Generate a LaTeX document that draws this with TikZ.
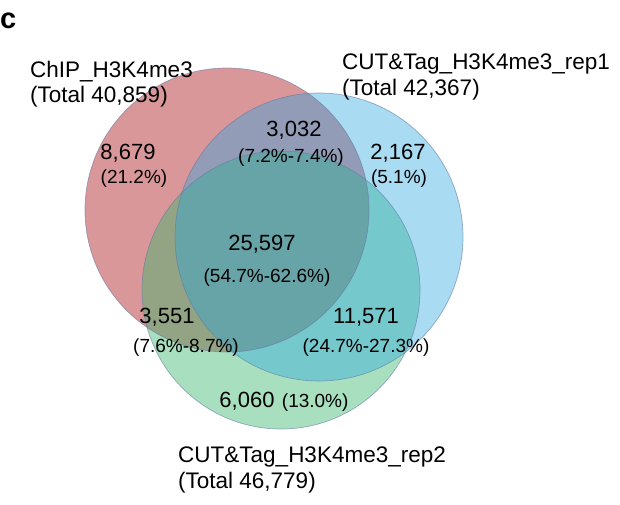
\documentclass[tikz,border=0pt]{standalone}
\usepackage{fontspec}
\setmainfont{Liberation Sans}
\usetikzlibrary{positioning}
\definecolor{chipred}{RGB}{192,82,86}
\definecolor{repblue}{RGB}{40,165,225}
\definecolor{repgreen}{RGB}{48,181,102}
\definecolor{rim}{RGB}{100,120,165}

\begin{document}
\begin{tikzpicture}[x=1pt,y=-1pt,
  set/.style={draw=rim, draw opacity=0.6, line width=0.7pt},
  count/.style={anchor=base, inner sep=0pt, font=\fontsize{22}{25}\selectfont},
  pct/.style={anchor=base, inner sep=0pt, font=\fontsize{19}{22}\selectfont},
  lbl/.style={anchor=base west, inner sep=0pt, font=\fontsize{22.5}{25}\selectfont}]
\useasboundingbox (0,0) rectangle (620,504);
\node[anchor=base west, inner sep=0pt, font=\fontsize{29}{30}\selectfont\bfseries] (panel) at (0,28.5) {c};
% the three sets
\coordinate (chip) at (227,210);
\coordinate (rep1) at (319,237);
\coordinate (rep2) at (281,290);
\fill[chipred, fill opacity=0.6] (chip) circle[radius=142];
\fill[repgreen, fill opacity=0.42] (rep2) circle[radius=139];
\fill[repblue, fill opacity=0.4] (rep1) circle[radius=144];
\draw[set] (chip) circle[radius=142];
\draw[set] (rep2) circle[radius=139];
\draw[set] (rep1) circle[radius=144];
% set names
\node[lbl] (chipname) at (30,77) {ChIP\_H3K4me3};
\node[lbl] (chiptot) at (30,102) {(Total 40,859)};
\node[lbl] (rep1name) at (342,69) {CUT\&Tag\_H3K4me3\_rep1};
\node[lbl] (rep1tot) at (342,95) {(Total 42,367)};
\node[lbl] (rep2name) at (178,462) {CUT\&Tag\_H3K4me3\_rep2};
\node[lbl] (rep2tot) at (178,488) {(Total 46,779)};
% region counts
\node[count] (n8679) at (128,159) {8,679};
\node[pct] (p8679) at (134,183) {(21.2\%)};
\node[count] (n3032) at (294,136) {3,032};
\node[pct] (p3032) at (291,162) {(7.2\%-7.4\%)};
\node[count] (n2167) at (398,159) {2,167};
\node[pct] (p2167) at (399,183) {(5.1\%)};
\node[count] (nall) at (262,250) {25,597};
\node[pct] (pall) at (267,282) {(54.7\%-62.6\%)};
\node[count] (n3551) at (167,323) {3,551};
\node[pct] (p3551) at (186,352) {(7.6\%-8.7\%)};
\node[count] (n11571) at (366,323) {11,571};
\node[pct] (p11571) at (366,352) {(24.7\%-27.3\%)};
\node[count] (n6060) at (247,407) {6,060};
\node[pct, base right=7pt of n6060] (p6060) {(13.0\%)};
\end{tikzpicture}
\end{document}
